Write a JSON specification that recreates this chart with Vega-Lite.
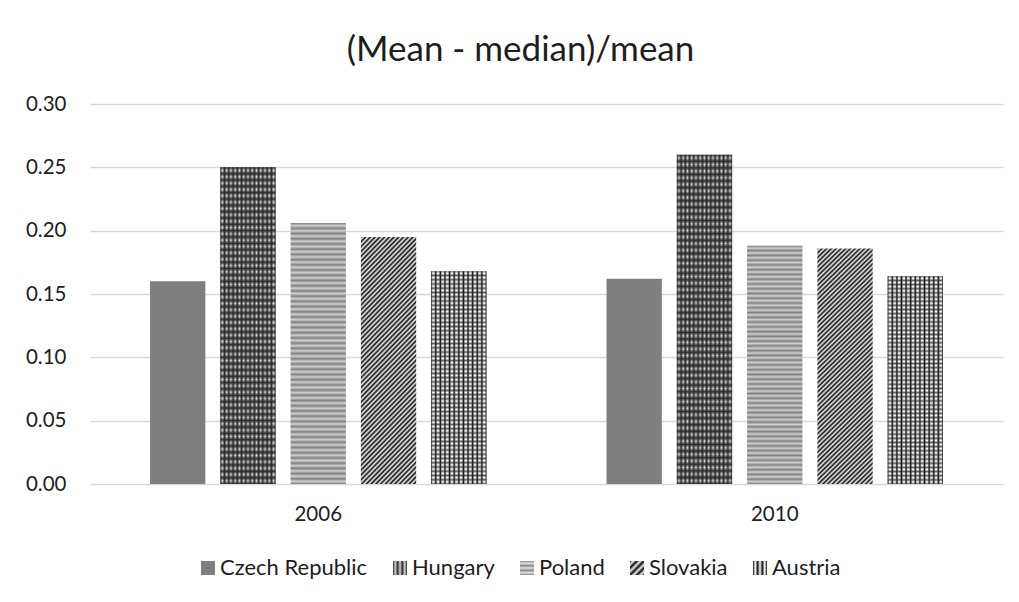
{
  "$schema": "https://vega.github.io/schema/vega-lite/v6.json",
  "width": 913,
  "height": 380,
  "autosize": {"type": "none"},
  "padding": {"left": 90, "top": 104, "right": 16, "bottom": 118},
  "background": "#ffffff",
  "config": {"view": {"stroke": null}, "font": "Lato"},
  "title": {"text": "(Mean - median)/mean", "font": "Lato", "fontSize": 35, "fontWeight": "normal", "color": "#1e1e1e", "anchor": "middle", "dx": -26, "offset": 26},
  "data": {"values": [
    {"year": "2006", "country": "Czech Republic", "value": 0.160},
    {"year": "2006", "country": "Hungary", "value": 0.250},
    {"year": "2006", "country": "Poland", "value": 0.206},
    {"year": "2006", "country": "Slovakia", "value": 0.195},
    {"year": "2006", "country": "Austria", "value": 0.168},
    {"year": "2010", "country": "Czech Republic", "value": 0.162},
    {"year": "2010", "country": "Hungary", "value": 0.260},
    {"year": "2010", "country": "Poland", "value": 0.188},
    {"year": "2010", "country": "Slovakia", "value": 0.186},
    {"year": "2010", "country": "Austria", "value": 0.164}
  ]},
  "encoding": {
    "x": {"field": "year", "type": "nominal", "scale": {"paddingInner": 0.263, "paddingOuter": 0.1315},
      "axis": {"title": null, "labelAngle": 0, "domain": false, "ticks": false, "labelPadding": 20, "labelFont": "Lato", "labelFontSize": 20.5, "labelColor": "#1e1e1e"}},
    "xOffset": {"field": "country", "type": "nominal", "scale": {"domain": ["Czech Republic", "Hungary", "Poland", "Slovakia", "Austria"], "paddingInner": 0.213, "paddingOuter": 0}},
    "y": {"field": "value", "type": "quantitative", "scale": {"domain": [0, 0.3]},
      "axis": {"title": null, "values": [0, 0.05, 0.1, 0.15, 0.2, 0.25, 0.3], "format": ".2f", "domain": false, "ticks": false, "labelPadding": 24, "labelFont": "Lato", "labelFontSize": 20.5, "labelColor": "#1e1e1e", "gridColor": "#d9d9d9", "gridWidth": 1.5}}
  },
  "layer": [
    {
      "mark": {"type": "bar"},
      "encoding": {
        "fill": {
          "field": "country", "type": "nominal",
          "scale": {"domain": ["Czech Republic", "Hungary", "Poland", "Slovakia", "Austria"], "range": ["#7f7f7f", "url(#lgHu)", "url(#lgPl)", "url(#lgSk)", "url(#lgAt)"]},
          "condition": [
            {"test": "datum.country === 'Poland'", "value": "#cfcfcf"},
            {"test": "datum.country === 'Hungary'", "value": {"id": "barHu", "gradient": "linear", "x1": 0, "y1": 0, "x2": 1, "y2": 0, "stops": [
              {"offset": 0, "color": "#333333"}, {"offset": 0.0385, "color": "#e4e4e4"}, {"offset": 0.0769, "color": "#333333"}, {"offset": 0.1154, "color": "#e4e4e4"},
              {"offset": 0.1538, "color": "#333333"}, {"offset": 0.1923, "color": "#e4e4e4"}, {"offset": 0.2308, "color": "#333333"}, {"offset": 0.2692, "color": "#e4e4e4"},
              {"offset": 0.3077, "color": "#333333"}, {"offset": 0.3462, "color": "#e4e4e4"}, {"offset": 0.3846, "color": "#333333"}, {"offset": 0.4231, "color": "#e4e4e4"},
              {"offset": 0.4615, "color": "#333333"}, {"offset": 0.5, "color": "#e4e4e4"}, {"offset": 0.5385, "color": "#333333"}, {"offset": 0.5769, "color": "#e4e4e4"},
              {"offset": 0.6154, "color": "#333333"}, {"offset": 0.6538, "color": "#e4e4e4"}, {"offset": 0.6923, "color": "#333333"}, {"offset": 0.7308, "color": "#e4e4e4"},
              {"offset": 0.7692, "color": "#333333"}, {"offset": 0.8077, "color": "#e4e4e4"}, {"offset": 0.8462, "color": "#333333"}, {"offset": 0.8846, "color": "#e4e4e4"},
              {"offset": 0.9231, "color": "#333333"}, {"offset": 0.9615, "color": "#e4e4e4"}, {"offset": 1, "color": "#333333"}
            ]}},
            {"test": "datum.country === 'Austria'", "value": {"id": "barAt", "gradient": "linear", "x1": 0, "y1": 0, "x2": 1, "y2": 0, "stops": [
              {"offset": 0, "color": "#111111"}, {"offset": 0.0278, "color": "#ffffff"}, {"offset": 0.0556, "color": "#ffffff"},
              {"offset": 0.0833, "color": "#111111"}, {"offset": 0.1111, "color": "#ffffff"}, {"offset": 0.1389, "color": "#ffffff"},
              {"offset": 0.1667, "color": "#111111"}, {"offset": 0.1944, "color": "#ffffff"}, {"offset": 0.2222, "color": "#ffffff"},
              {"offset": 0.25, "color": "#111111"}, {"offset": 0.2778, "color": "#ffffff"}, {"offset": 0.3056, "color": "#ffffff"},
              {"offset": 0.3333, "color": "#111111"}, {"offset": 0.3611, "color": "#ffffff"}, {"offset": 0.3889, "color": "#ffffff"},
              {"offset": 0.4167, "color": "#111111"}, {"offset": 0.4444, "color": "#ffffff"}, {"offset": 0.4722, "color": "#ffffff"},
              {"offset": 0.5, "color": "#111111"}, {"offset": 0.5278, "color": "#ffffff"}, {"offset": 0.5556, "color": "#ffffff"},
              {"offset": 0.5833, "color": "#111111"}, {"offset": 0.6111, "color": "#ffffff"}, {"offset": 0.6389, "color": "#ffffff"},
              {"offset": 0.6667, "color": "#111111"}, {"offset": 0.6944, "color": "#ffffff"}, {"offset": 0.7222, "color": "#ffffff"},
              {"offset": 0.75, "color": "#111111"}, {"offset": 0.7778, "color": "#ffffff"}, {"offset": 0.8056, "color": "#ffffff"},
              {"offset": 0.8333, "color": "#111111"}, {"offset": 0.8611, "color": "#ffffff"}, {"offset": 0.8889, "color": "#ffffff"},
              {"offset": 0.9167, "color": "#111111"}, {"offset": 0.9444, "color": "#ffffff"}, {"offset": 0.9722, "color": "#ffffff"},
              {"offset": 1, "color": "#111111"}
            ]}},
            {"test": "datum.country === 'Slovakia'", "value": {"id": "barSk", "gradient": "linear", "x1": 0, "y1": 0, "x2": 0.268, "y2": 1.168, "stops": [
              {"offset": 0, "color": "#111"}, {"offset": 0.008, "color": "#eee"}, {"offset": 0.016, "color": "#111"}, {"offset": 0.024, "color": "#eee"},
              {"offset": 0.032, "color": "#111"}, {"offset": 0.04, "color": "#eee"}, {"offset": 0.048, "color": "#111"}, {"offset": 0.056, "color": "#eee"},
              {"offset": 0.064, "color": "#111"}, {"offset": 0.072, "color": "#eee"}, {"offset": 0.08, "color": "#111"}, {"offset": 0.088, "color": "#eee"},
              {"offset": 0.096, "color": "#111"}, {"offset": 0.104, "color": "#eee"}, {"offset": 0.112, "color": "#111"}, {"offset": 0.12, "color": "#eee"},
              {"offset": 0.128, "color": "#111"}, {"offset": 0.136, "color": "#eee"}, {"offset": 0.144, "color": "#111"}, {"offset": 0.152, "color": "#eee"},
              {"offset": 0.16, "color": "#111"}, {"offset": 0.168, "color": "#eee"}, {"offset": 0.176, "color": "#111"}, {"offset": 0.184, "color": "#eee"},
              {"offset": 0.192, "color": "#111"}, {"offset": 0.2, "color": "#eee"}, {"offset": 0.208, "color": "#111"}, {"offset": 0.216, "color": "#eee"},
              {"offset": 0.224, "color": "#111"}, {"offset": 0.232, "color": "#eee"}, {"offset": 0.24, "color": "#111"}, {"offset": 0.248, "color": "#eee"},
              {"offset": 0.256, "color": "#111"}, {"offset": 0.264, "color": "#eee"}, {"offset": 0.272, "color": "#111"}, {"offset": 0.28, "color": "#eee"},
              {"offset": 0.288, "color": "#111"}, {"offset": 0.296, "color": "#eee"}, {"offset": 0.304, "color": "#111"}, {"offset": 0.312, "color": "#eee"},
              {"offset": 0.32, "color": "#111"}, {"offset": 0.328, "color": "#eee"}, {"offset": 0.336, "color": "#111"}, {"offset": 0.344, "color": "#eee"},
              {"offset": 0.352, "color": "#111"}, {"offset": 0.36, "color": "#eee"}, {"offset": 0.368, "color": "#111"}, {"offset": 0.376, "color": "#eee"},
              {"offset": 0.384, "color": "#111"}, {"offset": 0.392, "color": "#eee"}, {"offset": 0.4, "color": "#111"}, {"offset": 0.408, "color": "#eee"},
              {"offset": 0.416, "color": "#111"}, {"offset": 0.424, "color": "#eee"}, {"offset": 0.432, "color": "#111"}, {"offset": 0.44, "color": "#eee"},
              {"offset": 0.448, "color": "#111"}, {"offset": 0.456, "color": "#eee"}, {"offset": 0.464, "color": "#111"}, {"offset": 0.472, "color": "#eee"},
              {"offset": 0.48, "color": "#111"}, {"offset": 0.488, "color": "#eee"}, {"offset": 0.496, "color": "#111"}, {"offset": 0.504, "color": "#eee"},
              {"offset": 0.512, "color": "#111"}, {"offset": 0.52, "color": "#eee"}, {"offset": 0.528, "color": "#111"}, {"offset": 0.536, "color": "#eee"},
              {"offset": 0.544, "color": "#111"}, {"offset": 0.552, "color": "#eee"}, {"offset": 0.56, "color": "#111"}, {"offset": 0.568, "color": "#eee"},
              {"offset": 0.576, "color": "#111"}, {"offset": 0.584, "color": "#eee"}, {"offset": 0.592, "color": "#111"}, {"offset": 0.6, "color": "#eee"},
              {"offset": 0.608, "color": "#111"}, {"offset": 0.616, "color": "#eee"}, {"offset": 0.624, "color": "#111"}, {"offset": 0.632, "color": "#eee"},
              {"offset": 0.64, "color": "#111"}, {"offset": 0.648, "color": "#eee"}, {"offset": 0.656, "color": "#111"}, {"offset": 0.664, "color": "#eee"},
              {"offset": 0.672, "color": "#111"}, {"offset": 0.68, "color": "#eee"}, {"offset": 0.688, "color": "#111"}, {"offset": 0.696, "color": "#eee"},
              {"offset": 0.704, "color": "#111"}, {"offset": 0.712, "color": "#eee"}, {"offset": 0.72, "color": "#111"}, {"offset": 0.728, "color": "#eee"},
              {"offset": 0.736, "color": "#111"}, {"offset": 0.744, "color": "#eee"}, {"offset": 0.752, "color": "#111"}, {"offset": 0.76, "color": "#eee"},
              {"offset": 0.768, "color": "#111"}, {"offset": 0.776, "color": "#eee"}, {"offset": 0.784, "color": "#111"}, {"offset": 0.792, "color": "#eee"},
              {"offset": 0.8, "color": "#111"}, {"offset": 0.808, "color": "#eee"}, {"offset": 0.816, "color": "#111"}, {"offset": 0.824, "color": "#eee"},
              {"offset": 0.832, "color": "#111"}, {"offset": 0.84, "color": "#eee"}, {"offset": 0.848, "color": "#111"}, {"offset": 0.856, "color": "#eee"},
              {"offset": 0.864, "color": "#111"}, {"offset": 0.872, "color": "#eee"}, {"offset": 0.88, "color": "#111"}, {"offset": 0.888, "color": "#eee"},
              {"offset": 0.896, "color": "#111"}, {"offset": 0.904, "color": "#eee"}, {"offset": 0.912, "color": "#111"}, {"offset": 0.92, "color": "#eee"},
              {"offset": 0.928, "color": "#111"}, {"offset": 0.936, "color": "#eee"}, {"offset": 0.944, "color": "#111"}, {"offset": 0.952, "color": "#eee"},
              {"offset": 0.96, "color": "#111"}, {"offset": 0.968, "color": "#eee"}, {"offset": 0.976, "color": "#111"}, {"offset": 0.984, "color": "#eee"},
              {"offset": 0.992, "color": "#111"}, {"offset": 1, "color": "#eee"}
            ]}}
          ],
          "legend": {
            "orient": "none", "legendX": 107, "legendY": 453, "direction": "horizontal", "title": null,
            "symbolType": "square", "symbolSize": 196, "symbolStrokeWidth": 0,
            "labelFont": "Lato", "labelFontSize": 22, "labelColor": "#1e1e1e", "labelOffset": 1, "columnPadding": 21
          }
        }
      }
    },
    {
      "mark": {"type": "bar", "strokeWidth": 0},
      "encoding": {
        "fill": {
          "condition": {"test": "datum.country === 'Hungary' || datum.country === 'Poland' || datum.country === 'Austria'", "value": {"id": "barOv", "gradient": "linear", "x1": 0, "y1": 0, "x2": 0, "y2": 1, "stops": [
            {"offset": 0, "color": "#222"}, {"offset": 0.01, "color": "rgba(34,34,34,0)"}, {"offset": 0.02, "color": "#222"}, {"offset": 0.03, "color": "rgba(34,34,34,0)"},
            {"offset": 0.04, "color": "#222"}, {"offset": 0.05, "color": "rgba(34,34,34,0)"}, {"offset": 0.06, "color": "#222"}, {"offset": 0.07, "color": "rgba(34,34,34,0)"},
            {"offset": 0.08, "color": "#222"}, {"offset": 0.09, "color": "rgba(34,34,34,0)"}, {"offset": 0.1, "color": "#222"}, {"offset": 0.11, "color": "rgba(34,34,34,0)"},
            {"offset": 0.12, "color": "#222"}, {"offset": 0.13, "color": "rgba(34,34,34,0)"}, {"offset": 0.14, "color": "#222"}, {"offset": 0.15, "color": "rgba(34,34,34,0)"},
            {"offset": 0.16, "color": "#222"}, {"offset": 0.17, "color": "rgba(34,34,34,0)"}, {"offset": 0.18, "color": "#222"}, {"offset": 0.19, "color": "rgba(34,34,34,0)"},
            {"offset": 0.2, "color": "#222"}, {"offset": 0.21, "color": "rgba(34,34,34,0)"}, {"offset": 0.22, "color": "#222"}, {"offset": 0.23, "color": "rgba(34,34,34,0)"},
            {"offset": 0.24, "color": "#222"}, {"offset": 0.25, "color": "rgba(34,34,34,0)"}, {"offset": 0.26, "color": "#222"}, {"offset": 0.27, "color": "rgba(34,34,34,0)"},
            {"offset": 0.28, "color": "#222"}, {"offset": 0.29, "color": "rgba(34,34,34,0)"}, {"offset": 0.3, "color": "#222"}, {"offset": 0.31, "color": "rgba(34,34,34,0)"},
            {"offset": 0.32, "color": "#222"}, {"offset": 0.33, "color": "rgba(34,34,34,0)"}, {"offset": 0.34, "color": "#222"}, {"offset": 0.35, "color": "rgba(34,34,34,0)"},
            {"offset": 0.36, "color": "#222"}, {"offset": 0.37, "color": "rgba(34,34,34,0)"}, {"offset": 0.38, "color": "#222"}, {"offset": 0.39, "color": "rgba(34,34,34,0)"},
            {"offset": 0.4, "color": "#222"}, {"offset": 0.41, "color": "rgba(34,34,34,0)"}, {"offset": 0.42, "color": "#222"}, {"offset": 0.43, "color": "rgba(34,34,34,0)"},
            {"offset": 0.44, "color": "#222"}, {"offset": 0.45, "color": "rgba(34,34,34,0)"}, {"offset": 0.46, "color": "#222"}, {"offset": 0.47, "color": "rgba(34,34,34,0)"},
            {"offset": 0.48, "color": "#222"}, {"offset": 0.49, "color": "rgba(34,34,34,0)"}, {"offset": 0.5, "color": "#222"}, {"offset": 0.51, "color": "rgba(34,34,34,0)"},
            {"offset": 0.52, "color": "#222"}, {"offset": 0.53, "color": "rgba(34,34,34,0)"}, {"offset": 0.54, "color": "#222"}, {"offset": 0.55, "color": "rgba(34,34,34,0)"},
            {"offset": 0.56, "color": "#222"}, {"offset": 0.57, "color": "rgba(34,34,34,0)"}, {"offset": 0.58, "color": "#222"}, {"offset": 0.59, "color": "rgba(34,34,34,0)"},
            {"offset": 0.6, "color": "#222"}, {"offset": 0.61, "color": "rgba(34,34,34,0)"}, {"offset": 0.62, "color": "#222"}, {"offset": 0.63, "color": "rgba(34,34,34,0)"},
            {"offset": 0.64, "color": "#222"}, {"offset": 0.65, "color": "rgba(34,34,34,0)"}, {"offset": 0.66, "color": "#222"}, {"offset": 0.67, "color": "rgba(34,34,34,0)"},
            {"offset": 0.68, "color": "#222"}, {"offset": 0.69, "color": "rgba(34,34,34,0)"}, {"offset": 0.7, "color": "#222"}, {"offset": 0.71, "color": "rgba(34,34,34,0)"},
            {"offset": 0.72, "color": "#222"}, {"offset": 0.73, "color": "rgba(34,34,34,0)"}, {"offset": 0.74, "color": "#222"}, {"offset": 0.75, "color": "rgba(34,34,34,0)"},
            {"offset": 0.76, "color": "#222"}, {"offset": 0.77, "color": "rgba(34,34,34,0)"}, {"offset": 0.78, "color": "#222"}, {"offset": 0.79, "color": "rgba(34,34,34,0)"},
            {"offset": 0.8, "color": "#222"}, {"offset": 0.81, "color": "rgba(34,34,34,0)"}, {"offset": 0.82, "color": "#222"}, {"offset": 0.83, "color": "rgba(34,34,34,0)"},
            {"offset": 0.84, "color": "#222"}, {"offset": 0.85, "color": "rgba(34,34,34,0)"}, {"offset": 0.86, "color": "#222"}, {"offset": 0.87, "color": "rgba(34,34,34,0)"},
            {"offset": 0.88, "color": "#222"}, {"offset": 0.89, "color": "rgba(34,34,34,0)"}, {"offset": 0.9, "color": "#222"}, {"offset": 0.91, "color": "rgba(34,34,34,0)"},
            {"offset": 0.92, "color": "#222"}, {"offset": 0.93, "color": "rgba(34,34,34,0)"}, {"offset": 0.94, "color": "#222"}, {"offset": 0.95, "color": "rgba(34,34,34,0)"},
            {"offset": 0.96, "color": "#222"}, {"offset": 0.97, "color": "rgba(34,34,34,0)"}, {"offset": 0.98, "color": "#222"}, {"offset": 0.99, "color": "rgba(34,34,34,0)"},
            {"offset": 1, "color": "#222"}
          ]}},
          "value": null
        },
        "fillOpacity": {
          "condition": [
            {"test": "datum.country === 'Poland'", "value": 0.45},
            {"test": "datum.country === 'Austria'", "value": 0.7}
          ],
          "value": 0.9
        },
        "stroke": {
          "condition": [
            {"test": "datum.country === 'Hungary'", "value": {"id": "lgHu", "gradient": "linear", "x1": 0, "y1": 0, "x2": 1, "y2": 0, "stops": [
              {"offset": 0, "color": "#2e2e2e"}, {"offset": 0.1667, "color": "#d0d0d0"}, {"offset": 0.3333, "color": "#2e2e2e"}, {"offset": 0.5, "color": "#d0d0d0"},
              {"offset": 0.6667, "color": "#2e2e2e"}, {"offset": 0.8333, "color": "#d0d0d0"}, {"offset": 1, "color": "#2e2e2e"}]}},
            {"test": "datum.country === 'Poland'", "value": {"id": "lgPl", "gradient": "linear", "x1": 0, "y1": 0, "x2": 0, "y2": 1, "stops": [
              {"offset": 0, "color": "#8a8a8a"}, {"offset": 0.1667, "color": "#e0e0e0"}, {"offset": 0.3333, "color": "#8a8a8a"}, {"offset": 0.5, "color": "#e0e0e0"},
              {"offset": 0.6667, "color": "#8a8a8a"}, {"offset": 0.8333, "color": "#e0e0e0"}, {"offset": 1, "color": "#8a8a8a"}]}},
            {"test": "datum.country === 'Slovakia'", "value": {"id": "lgSk", "gradient": "linear", "x1": 0, "y1": 0, "x2": 1, "y2": 1, "stops": [
              {"offset": 0, "color": "#111"}, {"offset": 0.125, "color": "#eee"}, {"offset": 0.25, "color": "#111"}, {"offset": 0.375, "color": "#eee"},
              {"offset": 0.5, "color": "#111"}, {"offset": 0.625, "color": "#eee"}, {"offset": 0.75, "color": "#111"}, {"offset": 0.875, "color": "#eee"},
              {"offset": 1, "color": "#111"}]}},
            {"test": "datum.country === 'Austria'", "value": {"id": "lgAt", "gradient": "linear", "x1": 0, "y1": 0, "x2": 1, "y2": 0, "stops": [
              {"offset": 0, "color": "#111"}, {"offset": 0.1667, "color": "#fff"}, {"offset": 0.3333, "color": "#111"}, {"offset": 0.5, "color": "#fff"},
              {"offset": 0.6667, "color": "#111"}, {"offset": 0.8333, "color": "#fff"}, {"offset": 1, "color": "#111"}]}}
          ],
          "value": null
        }
      }
    }
  ]
}
